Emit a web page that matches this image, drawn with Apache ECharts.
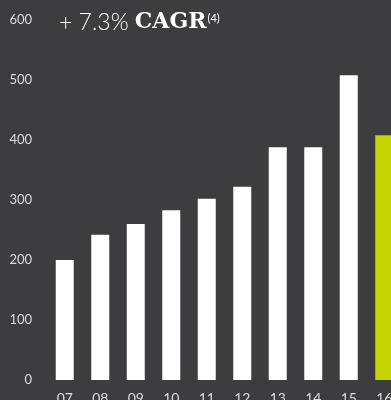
<!DOCTYPE html>
<html>
<head>
<meta charset="utf-8">
<script src="https://cdn.jsdelivr.net/npm/echarts@6/dist/echarts.min.js"></script>
<style>
  html, body { margin: 0; padding: 0; background: #3d3d3f; }
  #chart { width: 391px; height: 400px; }
</style>
</head>
<body>
<div id="chart"></div>
<script>
// years and values
var years = ["07", "08", "09", "10", "11", "12", "13", "14", "15", "16"];
var values = [200, 242, 260, 283, 302, 322, 388, 388, 508, 408];
var highlightYear = "16";
var yTicks = [0, 100, 200, 300, 400, 500, 600];

var chart = echarts.init(document.getElementById("chart"));

var data = values.map(function (v, i) {
  return {
    value: v,
    itemStyle: { color: years[i] === highlightYear ? "#c8d400" : "#ffffff" },
  };
});

chart.setOption({
  backgroundColor: "#3d3d3f",
  animation: false,
  title: {
    left: 54,
    top: 6,
    text: "{a|+ 7.3% }{b|CAGR}{c|(4)}",
    textStyle: {
      rich: {
        a: { fontFamily: "Lato", fontWeight: 300, fontSize: 23, color: "#ffffff" },
        b: { fontFamily: "DejaVu Serif", fontWeight: "bold", fontSize: 22, color: "#ffffff" },
        c: { fontFamily: "Lato", fontWeight: "normal", fontSize: 11, color: "#ffffff", verticalAlign: "top", padding: [2, 0, 0, 1] },
      },
    },
  },
  grid: {
    left: 47,
    right: -11,
    top: 20,
    bottom: 20,
    containLabel: false,
    outerBoundsMode: "none",
  },
  xAxis: {
    type: "category",
    data: years,
    axisLine: { show: false },
    axisTick: { show: false },
    axisLabel: { color: "#dcdcdc", fontFamily: "Lato", fontSize: 14, margin: 11 },
  },
  yAxis: {
    type: "value",
    min: yTicks[0],
    max: yTicks[yTicks.length - 1],
    interval: 100,
    splitLine: { show: false },
    axisLine: { show: false },
    axisTick: { show: false },
    axisLabel: { color: "#dcdcdc", fontFamily: "Lato", fontSize: 13, margin: 15, padding: [5, 0, 0, 0] },
  },
  series: [
    {
      type: "bar",
      data: data,
      barWidth: 18,
    },
  ],
});
</script>
</body>
</html>
